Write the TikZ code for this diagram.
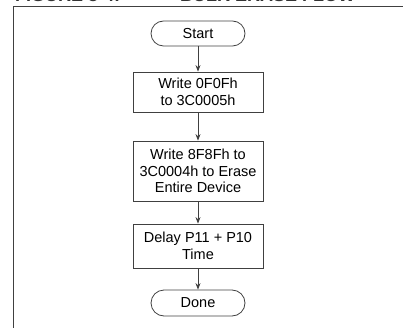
\documentclass[tikz,border=0pt]{standalone}
\usepackage{fontspec}
\setmainfont{Liberation Sans}
\usetikzlibrary{arrows.meta}
\begin{document}
\begin{tikzpicture}[x=1pt,y=-1pt,
  line/.style={draw=black!75,line width=0.8pt},
  txt/.style={font=\fontsize{14.5}{16.5}\selectfont},
  term/.style={line,txt,rounded corners=12.5pt,minimum height=25pt,minimum width=94pt,inner sep=0pt},
  stepbox/.style={line,txt,minimum width=130pt,inner sep=0pt,align=center},
  flow/.style={line,-{Stealth[length=6.5pt,width=5pt]}}]
  \useasboundingbox (0,0) rectangle (403,328);
  \begin{scope}
    \clip (0,0) rectangle (403,328);
    % caption line, mostly above the page edge
    \node[anchor=base west,inner sep=0pt,text=black!80,font=\fontsize{18}{20}\bfseries] (cap) at (15,2) {FIGURE 3-4:};
    \node[anchor=base west,inner sep=0pt,text=black!80,font=\fontsize{18}{20}\bfseries] (capb) at (180,2) {BULK ERASE FLOW};
    % frame
    \draw[line] (13.5,330) -- (13.5,6) -- (405,6);
  \end{scope}
  \node[term] (start) at (198,33.5) {Start};
  \node[stepbox,minimum height=40pt] (w1) at (198,92) {Write 0F0Fh\\to 3C0005h};
  \node[stepbox,minimum height=60pt] (w2) at (198,171) {Write 8F8Fh to\\3C0004h to Erase\\Entire Device};
  \node[stepbox,minimum height=44pt] (dl) at (198,246) {Delay P11 + P10\\Time};
  \node[term,minimum height=26pt,rounded corners=13pt] (done) at (198,303) {Done};
  \draw[flow] (start) -- (w1);
  \draw[flow] (w1) -- (w2);
  \draw[flow] (w2) -- (dl);
  \draw[flow] (dl) -- (done);
\end{tikzpicture}
\end{document}
